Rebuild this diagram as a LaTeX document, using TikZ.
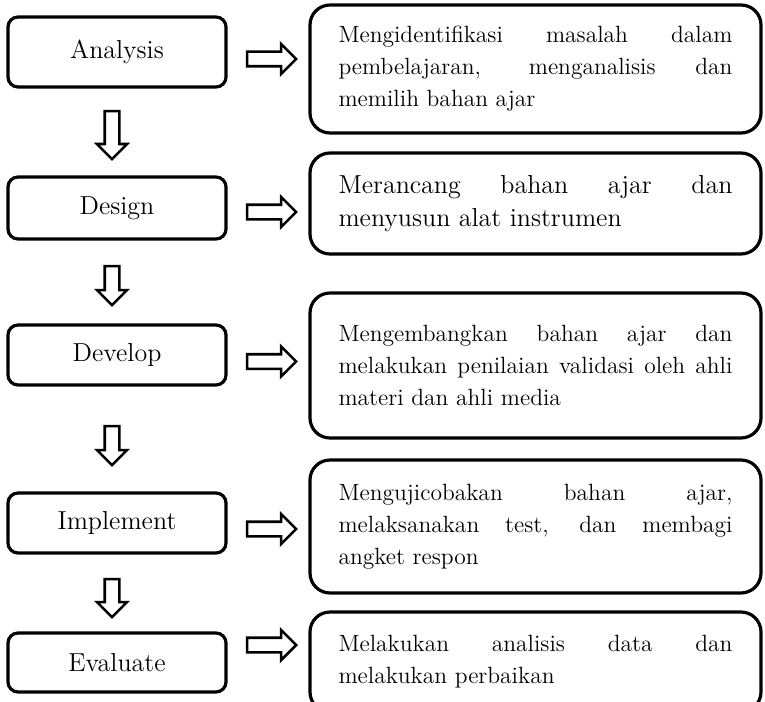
\documentclass[tikz,border=0pt]{standalone}
\usepackage{tikz}
\usetikzlibrary{shapes.arrows}

\begin{document}
\begin{tikzpicture}[x=0.5pt, y=-0.5pt,
		stage/.style={rectangle, rounded corners=5pt, draw=black, line width=1.6pt,
			minimum width=109pt, inner sep=0pt, font=\fontsize{13}{16}\selectfont},
		info/.style={rectangle, rounded corners=10pt, draw=black, line width=1.6pt,
			minimum width=225.5pt, text width=197pt, align=justify, inner sep=0pt,
			font=\fontsize{11.75}{16}\selectfont},
		hollow/.style={single arrow, draw=black, line width=1.3pt, inner sep=3pt,
			single arrow head extend=3.9pt, single arrow tip angle=90}]
				\clip (0,0) rectangle (765,701);
				% ADDIE stages
				\node[stage, minimum height=35pt] (analysis) at(117,52){Analysis};
				\node[stage, minimum height=31pt] (design) at(117,208){Design};
				\node[stage, minimum height=30pt] (develop) at(117,355){Develop};
				\node[stage, minimum height=30pt] (implement) at(117,523){Implement};
				\node[stage, minimum height=29.5pt] (evaluate) at(117,662.5){Evaluate};
				% keterangan
				\node[info, minimum height=64pt] (analysisInfo) at(535.5,69){Mengidentifikasi masalah dalam\linebreak pembelajaran, menganalisis dan\linebreak memilih bahan ajar};
				\node[info, minimum height=50.5pt, font=\fontsize{13}{16.5}\selectfont] (designInfo) at(535.5,203.5){Merancang bahan ajar dan\linebreak menyusun alat instrumen};
				\node[info, minimum height=72.5pt] (developInfo) at(535.5,365.5){Mengembangkan bahan ajar dan\linebreak melakukan penilaian validasi oleh ahli\linebreak materi dan ahli media};
				\node[info, minimum height=66.5pt] (implementInfo) at(535.5,526.5){Mengujicobakan bahan ajar,\linebreak melaksanakan test, dan membagi\linebreak angket respon};
				\node[info, minimum height=50pt] (evaluateInfo) at(535.5,662){Melakukan analisis data dan\linebreak melakukan perbaikan};
				% panah ke bawah
				\node[hollow, minimum height=24pt, shape border rotate=270] (down1) at(112,131.5){};
				\node[hollow, minimum height=19.5pt, shape border rotate=270] (down2) at(112,282){};
				\node[hollow, minimum height=19.5pt, shape border rotate=270] (down3) at(112,442){};
				\node[hollow, minimum height=19pt, shape border rotate=270] (down4) at(112,594.5){};
				% panah ke kanan
				\node[hollow, minimum height=24.5pt] (right1) at(268,59){};
				\node[hollow, minimum height=24.5pt] (right2) at(268,212){};
				\node[hollow, minimum height=24.5pt] (right3) at(268,361.5){};
				\node[hollow, minimum height=24.5pt] (right4) at(268,529){};
				\node[hollow, minimum height=24.5pt] (right5) at(268,645){};
			\end{tikzpicture}
\end{document}
